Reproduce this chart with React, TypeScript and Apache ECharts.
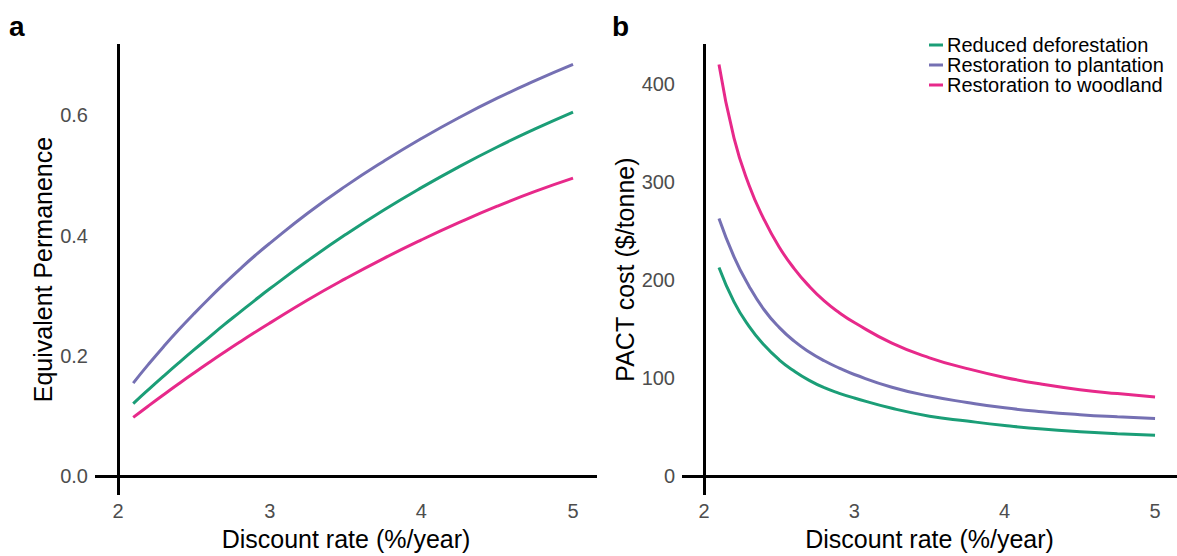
import React, { useEffect, useRef } from "react";
import * as echarts from "echarts";

// Discount rates (%/year) at which each curve is sampled
const rates = [2.1, 2.2, 2.3, 2.4, 2.5, 2.6, 2.7, 2.8, 2.9, 3, 3.25, 3.5, 3.75, 4, 4.25, 4.5, 4.75, 5];

const seriesNames = ["Reduced deforestation", "Restoration to plantation", "Restoration to woodland"];
const seriesColors = ["#1B9E77", "#7570B3", "#E7298A"];

// Panel a: equivalent permanence
const permDeforestation = [0.121, 0.144, 0.1665, 0.1885, 0.21, 0.231, 0.252, 0.272, 0.292, 0.3115, 0.358, 0.4015, 0.442, 0.4795, 0.5145, 0.547, 0.577, 0.605];
const permPlantation = [0.155, 0.186, 0.2155, 0.2435, 0.27, 0.2955, 0.32, 0.3435, 0.366, 0.387, 0.437, 0.482, 0.523, 0.561, 0.596, 0.628, 0.657, 0.684];
const permWoodland = [0.098, 0.117, 0.1356, 0.1538, 0.1716, 0.189, 0.206, 0.2226, 0.2388, 0.2545, 0.2929, 0.3284, 0.3617, 0.3927, 0.4217, 0.4487, 0.4732, 0.4952];

// Panel b: PACT cost ($/tonne)
const costDeforestation = [213, 178, 153, 134, 119, 107.5, 98, 90.5, 84.8, 80, 69.5, 61.5, 56.5, 52, 48.3, 45.6, 43.6, 42];
const costPlantation = [263, 224, 194, 170, 152, 138, 127, 118, 110.5, 104, 91, 82, 75.5, 70, 66, 63, 60.8, 59];
const costWoodland = [420, 345, 297, 262, 234, 212, 194, 179, 167, 157, 136, 121, 110, 101, 94, 88.5, 84.5, 81];

// Tick labels
const rateTicks = [2, 3, 4, 5];
const permTicks = [0, 0.2, 0.4, 0.6];
const costTicks = [0, 100, 200, 300, 400];

const FONT = "Liberation Sans, Arial, sans-serif";
const TICK_COLOR = "#4D4D4D";

const pairs = (ys: number[]) => rates.map((r, i) => [r, ys[i]]);

export default function App() {
  const ref = useRef<HTMLDivElement>(null);

  useEffect(() => {
    if (!ref.current) return;
    const chart = echarts.init(ref.current, undefined, { renderer: "svg" });

    // Black axis lines crossing at (2, 0), drawn across the full plot area
    const frameLines = {
      silent: true,
      symbol: "none",
      label: { show: false },
      lineStyle: { color: "#000", width: 3, type: "solid" },
      emphasis: { disabled: true },
      data: [{ xAxis: 2 }, { yAxis: 0 }],
    };

    const rateAxis = (gridIndex: number, min: number, max: number) => ({
      type: "value",
      gridIndex,
      min,
      max,
      axisLine: { show: false },
      axisTick: { show: false },
      splitLine: { show: false },
      axisLabel: {
        customValues: rateTicks,
        color: TICK_COLOR,
        fontSize: 20,
        fontFamily: FONT,
        margin: 6,
      },
      name: "Discount rate (%/year)",
      nameLocation: "middle",
      nameGap: 24,
      nameTextStyle: { color: "#000", fontSize: 25, fontFamily: FONT },
    });

    const lineSeries = (name: string, color: string, data: number[][], axis: number, extra: any = {}) => ({
      type: "line",
      name,
      xAxisIndex: axis,
      yAxisIndex: axis,
      data,
      smooth: 0.5,
      showSymbol: false,
      symbol: "none",
      lineStyle: { color, width: 3 },
      itemStyle: { color },
      emphasis: { disabled: true },
      ...extra,
    });

    chart.setOption({
      animation: false,
      backgroundColor: "#fff",
      textStyle: { fontFamily: FONT },
      grid: [
        { left: 95, top: 44, width: 502, height: 459 },
        { left: 682, top: 44, width: 495, height: 459 },
      ],
      xAxis: [rateAxis(0, 1.848, 5.158), rateAxis(1, 1.854, 5.146)],
      yAxis: [
        {
          type: "value",
          gridIndex: 0,
          min: -0.031,
          max: 0.718,
          axisLine: { show: false },
          axisTick: { show: false },
          splitLine: { show: false },
          axisLabel: {
            customValues: permTicks,
            formatter: (v: number) => v.toFixed(1),
            color: TICK_COLOR,
            fontSize: 20,
            fontFamily: FONT,
            margin: 7,
          },
          name: "Equivalent Permanence",
          nameLocation: "middle",
          nameGap: 40,
          nameTextStyle: { color: "#000", fontSize: 25, fontFamily: FONT },
        },
        {
          type: "value",
          gridIndex: 1,
          min: -19,
          max: 441,
          axisLine: { show: false },
          axisTick: { show: false },
          splitLine: { show: false },
          axisLabel: {
            customValues: costTicks,
            formatter: (v: number) => String(v),
            color: TICK_COLOR,
            fontSize: 20,
            fontFamily: FONT,
            margin: 7,
          },
          name: "PACT cost ($/tonne)",
          nameLocation: "middle",
          nameGap: 43,
          nameTextStyle: { color: "#000", fontSize: 25, fontFamily: FONT },
        },
      ],
      legend: {
        orient: "vertical",
        left: 924,
        top: 30,
        itemGap: 0,
        itemWidth: 14,
        itemHeight: 3,
        icon: "rect",
        data: seriesNames,
        textStyle: { color: "#000", fontSize: 20, fontFamily: FONT, padding: [0, 0, 0, -1] },
      },
      graphic: [
        { type: "text", left: 9, top: 12, style: { text: "a", fontSize: 28, fontWeight: "bold", fontFamily: FONT, fill: "#000" } },
        { type: "text", left: 612, top: 12, style: { text: "b", fontSize: 28, fontWeight: "bold", fontFamily: FONT, fill: "#000" } },
      ],
      series: [
        lineSeries(seriesNames[0], seriesColors[0], pairs(permDeforestation), 0, { markLine: frameLines }),
        lineSeries(seriesNames[1], seriesColors[1], pairs(permPlantation), 0),
        lineSeries(seriesNames[2], seriesColors[2], pairs(permWoodland), 0),
        lineSeries(seriesNames[0], seriesColors[0], pairs(costDeforestation), 1, { markLine: frameLines }),
        lineSeries(seriesNames[1], seriesColors[1], pairs(costPlantation), 1),
        lineSeries(seriesNames[2], seriesColors[2], pairs(costWoodland), 1),
      ],
    });

    return () => chart.dispose();
  }, []);

  return (
    <div
      ref={ref}
      style={{ position: "fixed", left: 0, top: 0, width: 1177, height: 556, background: "#fff" }}
    />
  );
}
